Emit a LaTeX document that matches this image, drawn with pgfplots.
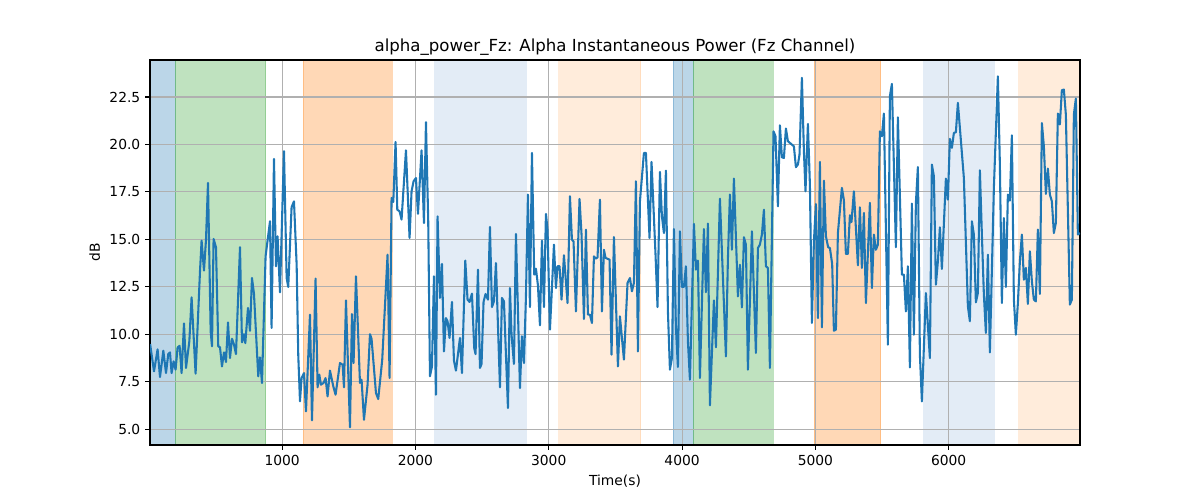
\documentclass[border=0pt]{standalone}
\usepackage{fontspec}
\setmainfont{DejaVu Sans}
\usepackage{pgfplots}
\pgfplotsset{compat=1.18}

\definecolor{tabblue}{HTML}{1F77B4}
\definecolor{taborange}{HTML}{FF7F0E}
\definecolor{tabgreen}{HTML}{2CA02C}
\definecolor{paleblue}{HTML}{E3ECF6}
\definecolor{gridgray}{HTML}{B0B0B0}

% shaded span: #1 colour, #2 opacity, #3 start, #4 end (y range = axis limits)
\newcommand{\vspanfill}[4]{%
  \addplot[fill=#1, draw=#1, opacity=#2, line width=0.6pt, on layer=axis background]
    coordinates {(#3,4.16) (#4,4.16) (#4,24.45) (#3,24.45)} -- cycle;}

\begin{document}
\begin{tikzpicture}
\begin{axis}[
  set layers,
  scale only axis,
  width=9.3in, height=3.85in,
  xmin=9, xmax=6985,
  ymin=4.16, ymax=24.45,
  xtick={1000,2000,3000,4000,5000,6000},
  ytick={5,7.5,10,12.5,15,17.5,20,22.5},
  yticklabel style={/pgf/number format/.cd, fixed, fixed zerofill, precision=1},
  xticklabel style={/pgf/number format/.cd, 1000 sep={}},
  /pgf/number format/assume math mode=true,
  tick label style={font=\fontsize{10}{12}\selectfont},
  tick align=outside, tick pos=left,
  major tick length=3.5pt,
  every tick/.style={black, line width=0.8pt},
  axis line style={line width=0.8pt},
  grid=major,
  major grid style={gridgray, line width=0.8pt},
  title={alpha\_power\_Fz: Alpha Instantaneous Power (Fz Channel)},
  title style={font=\fontsize{12}{14}\selectfont, yshift=-6.5pt},
  xlabel={Time(s)}, ylabel={dB},
  label style={font=\fontsize{10}{12}\selectfont},
]
\vspanfill{tabblue}{0.3}{9}{196}
\vspanfill{tabgreen}{0.3}{196}{876}
\vspanfill{taborange}{0.3}{1159}{1826}
\vspanfill{paleblue}{1}{2146}{2834}
\vspanfill{taborange}{0.15}{3076}{3689}
\vspanfill{tabblue}{0.3}{3934}{4084}
\vspanfill{tabgreen}{0.3}{4084}{4684}
\vspanfill{taborange}{0.3}{4992}{5489}
\vspanfill{paleblue}{1}{5809}{6344}
\vspanfill{taborange}{0.15}{6526}{6985}

\addplot[tabblue, line width=1.5pt, line join=round] coordinates {
(10,9.48) (39,8.04) (66,9.20) (84,7.74) (109,9.13) (129,7.95) (146,8.95) (159,9.04)
(171,7.95) (186,8.57) (201,8.13) (216,9.30) (231,9.39) (246,7.95) (264,10.57) (279,8.22)
(304,9.62) (321,11.94) (351,7.92) (384,13.31) (396,14.93) (414,13.35) (429,14.98) (444,17.97)
(464,10.15) (474,9.36) (486,15.02) (504,14.58) (521,9.36) (534,9.31) (549,8.30) (564,9.04)
(579,8.53) (594,10.62) (609,8.74) (624,9.76) (639,9.45) (654,8.95) (684,14.58) (699,9.57)
(714,10.00) (724,9.53) (744,11.38) (759,10.18) (774,12.96) (789,12.12) (821,7.78) (834,8.78)
(849,7.43) (876,14.10) (909,15.95) (921,10.33) (939,19.24) (954,13.58) (966,15.16) (984,12.21)
(1014,19.64) (1034,12.96) (1046,12.49) (1071,16.69) (1089,17.00) (1109,13.66) (1121,8.92) (1134,6.46)
(1146,7.69) (1164,7.95) (1179,5.93) (1209,11.03) (1224,5.46) (1251,12.93) (1266,7.20) (1279,7.87)
(1291,7.34) (1311,7.43) (1326,7.69) (1341,6.72) (1359,8.08) (1384,7.25) (1401,6.81) (1434,8.48)
(1454,8.39) (1464,7.20) (1479,11.78) (1509,5.09) (1524,11.06) (1536,8.48) (1554,13.05) (1584,7.43)
(1596,7.60) (1614,5.49) (1641,7.34) (1659,10.00) (1671,9.75) (1704,6.90) (1721,6.58) (1751,8.66)
(1791,14.19) (1806,7.69) (1821,17.18) (1834,16.97) (1851,20.13) (1864,16.56) (1881,16.48) (1896,16.04)
(1929,19.69) (1956,15.07) (1971,17.53) (1986,18.06) (2004,18.23) (2019,16.34) (2046,19.69) (2064,15.86)
(2079,21.17) (2096,15.95) (2109,7.78) (2124,8.30) (2139,13.05) (2154,6.81) (2166,16.21) (2184,11.91)
(2199,13.70) (2214,9.09) (2229,10.85) (2241,10.68) (2256,9.80) (2274,11.70) (2289,8.60) (2304,8.08)
(2334,9.80) (2349,7.95) (2374,13.88) (2391,11.82) (2406,11.70) (2424,12.14) (2441,9.27) (2451,8.95)
(2469,13.40) (2484,8.22) (2496,8.43) (2511,11.70) (2526,12.12) (2544,11.82) (2559,15.65) (2574,11.43)
(2589,11.73) (2604,13.75) (2634,7.20) (2649,11.91) (2664,11.73) (2694,6.11) (2709,12.43) (2721,9.97)
(2739,8.43) (2754,15.28) (2784,7.16) (2799,9.89) (2814,8.48) (2829,11.96) (2844,17.36) (2859,11.43)
(2874,19.55) (2891,13.14) (2904,13.45) (2919,12.57) (2934,10.47) (2949,14.93) (2964,11.43) (2979,16.34)
(2991,15.51) (3009,10.24) (3024,12.43) (3039,14.72) (3054,12.43) (3066,13.58) (3081,13.58) (3096,11.82)
(3114,14.16) (3141,11.64) (3159,17.27) (3174,14.98) (3186,14.89) (3204,11.20) (3231,17.13) (3246,15.25)
(3264,10.80) (3279,15.51) (3294,11.03) (3309,11.03) (3324,10.59) (3339,14.10) (3354,13.98) (3366,14.05)
(3384,17.09) (3399,11.20) (3414,14.45) (3426,14.02) (3456,13.93) (3471,8.92) (3489,15.12) (3519,8.30)
(3534,10.94) (3564,8.66) (3591,12.70) (3609,12.96) (3624,12.26) (3639,12.70) (3654,18.06) (3669,9.09)
(3684,17.00) (3714,19.55) (3729,19.55) (3756,15.07) (3771,19.08) (3801,14.19) (3816,11.43) (3834,18.55)
(3849,16.21) (3864,15.33) (3879,18.62) (3894,11.20) (3909,8.13) (3924,8.74) (3939,15.54) (3954,10.33)
(3969,8.27) (3984,15.42) (3999,12.49) (4014,12.49) (4029,13.58) (4044,9.62) (4059,7.60) (4089,15.81)
(4104,13.40) (4119,13.88) (4134,7.69) (4164,15.54) (4179,12.21) (4194,15.83) (4209,6.25) (4239,11.78)
(4254,9.31) (4284,17.14) (4299,14.37) (4329,8.83) (4344,13.98) (4359,17.36) (4374,14.45) (4389,18.20)
(4419,11.99) (4434,13.66) (4449,11.41) (4464,15.11) (4479,14.72) (4494,8.13) (4524,15.42) (4554,9.01)
(4569,14.54) (4584,14.72) (4599,15.25) (4614,16.56) (4629,13.58) (4644,13.49) (4659,8.22) (4686,20.69)
(4701,20.43) (4719,16.74) (4734,21.01) (4749,19.32) (4764,19.29) (4779,20.84) (4794,20.17) (4824,19.99)
(4839,19.90) (4854,18.80) (4869,18.94) (4881,19.46) (4899,23.51) (4914,19.64) (4926,17.53) (4944,21.08)
(4959,17.88) (4974,10.59) (4989,14.89) (5004,16.86) (5019,10.85) (5034,19.08) (5049,10.36) (5064,18.09)
(5079,15.16) (5096,14.58) (5109,14.54) (5126,13.70) (5139,10.18) (5154,10.24) (5169,15.33) (5199,17.71)
(5214,17.06) (5229,14.23) (5244,14.23) (5259,16.27) (5271,15.91) (5289,17.53) (5319,13.63) (5334,16.69)
(5349,13.49) (5364,16.39) (5379,11.64) (5409,16.92) (5424,12.43) (5439,15.25) (5454,14.45) (5469,14.72)
(5484,20.69) (5499,20.43) (5514,21.63) (5544,9.45) (5559,22.54) (5574,23.19) (5604,14.58) (5619,21.43)
(5649,13.14) (5664,13.14) (5679,11.20) (5694,13.58) (5709,8.25) (5724,16.88) (5739,9.97) (5754,16.92)
(5769,18.81) (5784,8.92) (5799,6.46) (5829,12.17) (5859,8.74) (5874,18.94) (5889,18.32) (5904,12.61)
(5919,13.84) (5934,15.63) (5949,13.44) (5979,18.20) (5994,17.09) (6009,20.29) (6024,19.82) (6039,20.61)
(6054,20.64) (6069,22.19) (6114,18.23) (6144,11.47) (6159,10.68) (6174,15.95) (6189,15.25) (6204,11.68)
(6219,12.17) (6234,18.64) (6249,15.25) (6264,12.08) (6279,10.06) (6294,14.19) (6309,9.04) (6339,17.71)
(6369,23.59) (6384,18.94) (6399,11.64) (6414,16.12) (6429,12.49) (6444,17.36) (6459,17.04) (6474,20.48)
(6489,11.82) (6504,9.97) (6519,11.64) (6534,13.84) (6549,15.25) (6564,12.87) (6579,13.49) (6594,11.59)
(6609,14.37) (6624,12.79) (6639,11.82) (6654,11.73) (6669,15.51) (6684,12.12) (6699,21.13) (6714,19.90)
(6729,17.39) (6744,18.73) (6759,17.36) (6774,17.00) (6789,15.33) (6804,15.86) (6819,21.63) (6834,21.05)
(6849,22.86) (6864,22.89) (6879,21.57) (6909,11.56) (6924,11.82) (6939,21.57) (6954,22.42) (6969,15.25)
(6984,15.33)
};
\coordinate (ll) at (rel axis cs:0,0);
\end{axis}
\path (ll) ++(-1.5in,-0.55in) rectangle ++(12in,5in);
\end{tikzpicture}
\end{document}
